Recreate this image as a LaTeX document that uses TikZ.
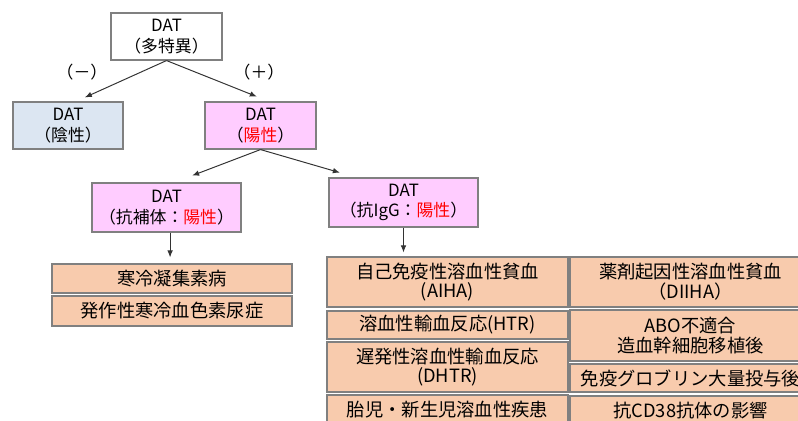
\documentclass[tikz,border=0pt]{standalone}
\usepackage{fontspec}
\setmainfont{Noto Sans CJK JP}
\usetikzlibrary{arrows.meta, positioning}
\definecolor{negcolor}{RGB}{220, 230, 242}
\definecolor{poscolor}{RGB}{255, 204, 255}
\definecolor{listcolor}{RGB}{248, 203, 173}
\definecolor{framecolor}{RGB}{128, 128, 128}

\begin{document}
\begin{tikzpicture}[x=0.025cm, y=-0.025cm,
    datbox/.style={draw=framecolor, line width=0.8pt, minimum width=2.775cm, minimum height=1.175cm, inner sep=0pt, align=center, font=\fontsize{12}{14.5}\selectfont},
    listbox/.style={draw=framecolor, line width=0.8pt, fill=listcolor, minimum width=6.025cm, inner sep=0pt, align=center, font=\fontsize{13}{14}\selectfont},
    sign/.style={font=\fontsize{12}{14}\selectfont},
    arrow/.style={-{Latex[length=5pt, width=4pt]}, line width=0.7pt, draw=black!80}
]
\clip (0, 0) rectangle (798, 421);

% DAT results
\node[datbox, fill=white] (dat) at (166.5, 36.5) {DAT\\（多特異）};
\node[datbox, fill=negcolor, minimum width=2.75cm] (neg) at (68, 125.5) {DAT\\（陰性）};
\node[datbox, fill=poscolor] (pos) at (260.5, 125.5) {DAT\\（\textcolor{red}{陽性}）};
\node[datbox, fill=poscolor, minimum width=3.725cm, minimum height=1.225cm] (comp) at (166.5, 207.5) {DAT\\（抗補体：\textcolor{red}{陽性}）};
\node[datbox, fill=poscolor, minimum width=3.725cm, minimum height=1.225cm] (igg) at (403.5, 202.5) {DAT\\（抗IgG：\textcolor{red}{陽性}）};

\node[sign] (minus) at (82, 72) {（－）};
\node[sign] (plus) at (259, 72) {（＋）};

% complement diseases
\node[listbox, minimum width=6cm, minimum height=0.725cm] (cad) at (172, 278.5) {寒冷凝集素病};
\node[listbox, minimum width=6cm, minimum height=0.75cm] (pch) at (172, 311) {発作性寒冷血色素尿症};

% IgG diseases
\node[listbox, minimum height=1.25cm] (aiha) at (447.5, 282) {自己免疫性溶血性貧血\\(AIHA)};
\node[listbox, minimum height=0.7cm] (htr) at (447.5, 325) {溶血性輸血反応(HTR)};
\node[listbox, minimum height=1.25cm] (dhtr) at (447.5, 367) {遅発性溶血性輸血反応\\(DHTR)};
\node[listbox, minimum height=0.75cm] (hdfn) at (447.5, 410) {胎児・新生児溶血性疾患};

\node[listbox, minimum height=1.25cm] (diiha) at (690.5, 282) {薬剤起因性溶血性貧血\\（DIIHA）};
\node[listbox, minimum height=1.275cm] (abo) at (690.5, 335.5) {ABO不適合\\造血幹細胞移植後};
\node[listbox, minimum height=0.7cm] (ivig) at (690.5, 378) {免疫グロブリン大量投与後};
\node[listbox, minimum height=0.75cm] (cd38) at (690.5, 411) {抗CD38抗体の影響};

% arrows
\draw[arrow] (dat.south) -- ([xshift=0.42cm, yshift=0.1cm]neg.north);
\draw[arrow] (dat.south) -- ([xshift=-0.09cm, yshift=0.12cm]pos.north);
\draw[arrow] (pos.south) -- ([xshift=0.64cm, yshift=0.17cm]comp.north);
\draw[arrow] (pos.south) -- ([xshift=-1.59cm, yshift=0.12cm]igg.north);
\draw[arrow] ([xshift=0.09cm]comp.south) -- ([xshift=0.09cm, yshift=0.15cm]cad.north -| comp.south);
\draw[arrow] (igg.south) -- ([yshift=0.1cm]aiha.north -| igg.south);

\end{tikzpicture}
\end{document}
